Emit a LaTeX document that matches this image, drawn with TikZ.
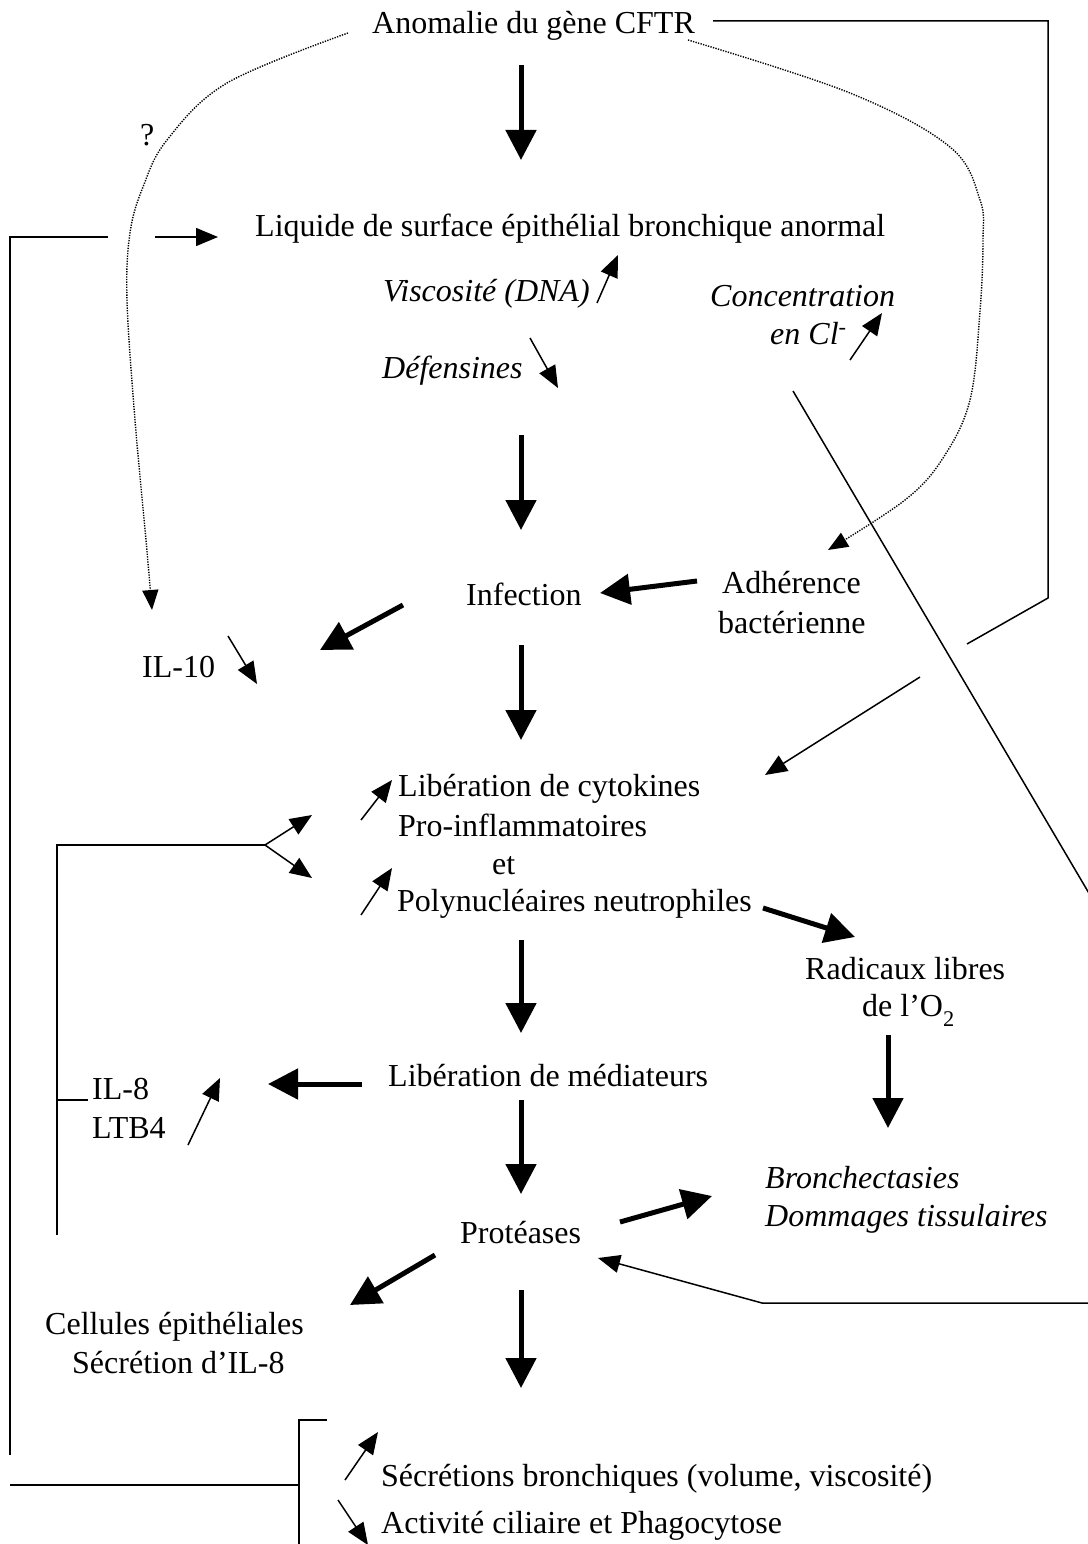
\documentclass[tikz,border=0pt]{standalone}
\usepackage{fontspec}
\setmainfont{Liberation Serif}
\usetikzlibrary{arrows.meta}
\begin{document}
\begin{tikzpicture}[x=1pt,y=-1pt,
  txt/.style={anchor=base west,inner sep=0pt,font=\fontsize{32}{38}\selectfont},
  itx/.style={anchor=base west,inner sep=0pt,font=\fontsize{32}{38}\selectfont\itshape},
  bigarr/.style={line width=5pt,-{Triangle[length=30pt,width=30pt]}},
  thinarr/.style={line width=1.5pt,-{Triangle[length=22pt,width=18pt]}},
  plainline/.style={line width=1.5pt},
  dotline/.style={line width=1.4pt,dash pattern=on 1.3pt off 1.3pt,-{Triangle[length=20pt,width=16pt]}}]
\useasboundingbox[fill=white] (0,0) rectangle (1087,1544);

% texts
\node[txt] (anom) at (372,34) {Anomalie du gène CFTR};
\node[txt] (liq) at (255,236) {Liquide de surface épithélial bronchique anormal};
\node[itx] (visc) at (383,301) {Viscosité (DNA)};
\node[itx] (def) at (382,378) {Défensines};
\node[itx] (conc) at (710,306) {Concentration};
\node[itx] (encl) at (770,344) {en Cl\textsuperscript{-}};
\node[txt] (q) at (140,146) {?};
\node[txt] (inf) at (466,605) {Infection};
\node[txt] (adh1) at (722,593) {Adhérence};
\node[txt] (adh2) at (718,633) {bactérienne};
\node[txt] (il10) at (142,677) {IL-10};
\node[txt] (cyt1) at (398,796) {Libération de cytokines};
\node[txt] (cyt2) at (398,836) {Pro-inflammatoires};
\node[txt] (cyt3) at (492,874) {et};
\node[txt] (cyt4) at (397,911) {Polynucléaires neutrophiles};
\node[txt] (rad1) at (805,979) {Radicaux libres};
\node[txt] (rad2) at (862,1016) {de l’O\raisebox{-0.3ex}{\textsubscript{2}}};
\node[txt] (med) at (388,1086) {Libération de médiateurs};
\node[txt] (il8) at (92,1099) {IL-8};
\node[txt] (ltb) at (92,1138) {LTB4};
\node[txt] (prot) at (460,1243) {Protéases};
\node[itx] (bro1) at (765,1188) {Bronchectasies};
\node[itx] (bro2) at (765,1226) {Dommages tissulaires};
\node[txt] (cel1) at (45,1334) {Cellules épithéliales};
\node[txt] (cel2) at (72,1373) {Sécrétion d’IL-8};
\node[txt] (sec) at (381,1486) {Sécrétions bronchiques (volume, viscosité)};
\node[txt] (act) at (381,1533) {Activité ciliaire et Phagocytose};

% big arrows
\draw[bigarr] (521,65) -- (521,160);
\draw[bigarr] (521,435) -- (521,530);
\draw[bigarr] (521,645) -- (521,740);
\draw[bigarr] (521,940) -- (521,1033);
\draw[bigarr] (521,1100) -- (521,1194);
\draw[bigarr] (521,1290) -- (521,1388);
\draw[bigarr] (697,581) -- (600,593);
\draw[bigarr] (403,605) -- (320,650);
\draw[bigarr] (763,908) -- (855,937);
\draw[bigarr] (888,1035) -- (888,1128);
\draw[bigarr] (362,1084) -- (268,1084);
\draw[bigarr] (620,1222) -- (712,1196);
\draw[bigarr] (435,1255) -- (350,1305);

% thin arrows
\draw[thinarr] (597,303) -- (618,255);
\draw[thinarr] (530,338) -- (558,388);
\draw[thinarr] (850,360) -- (882,313);
\draw[thinarr] (228,636) -- (257,684);
\draw[thinarr] (361,820) -- (392,780);
\draw[thinarr] (361,915) -- (392,868);
\draw[thinarr] (188,1145) -- (220,1078);
\draw[thinarr] (345,1480) -- (378,1432);
\draw[thinarr] (338,1500) -- (368,1545);
\draw[thinarr] (265,845) -- (312,815);
\draw[thinarr] (265,845) -- (312,878);
\draw[thinarr] (155,237) -- (218,237);
\draw[thinarr] (920,677) -- (765,775);
\draw[thinarr] (1090,1303) -- (762,1303) -- (598,1258);

% plain lines
\draw[plainline] (108,237) -- (10,237) -- (10,1455);
\draw[plainline] (10,1485) -- (299,1485);
\draw[plainline] (327,1420) -- (299,1420) -- (299,1550);
\draw[plainline] (265,845) -- (57,845) -- (57,1235);
\draw[plainline] (57,1100) -- (88,1100);
\draw[plainline] (713,21) -- (1048,21) -- (1048,598) -- (967,644);
\draw[plainline] (793,391) -- (1090,895);

% dotted curves
\draw[dotline] plot[smooth,tension=0.6] coordinates {(348,33) (227,83) (167,140) (143,187) (130,233) (127,300) (135,420) (146,540) (152,610)};
\draw[dotline] plot[smooth,tension=0.6] coordinates {(688,40) (850,93) (950,147) (980,200) (983,240) (980,311) (970,400) (943,458) (905,500) (828,550)};
\end{tikzpicture}
\end{document}
